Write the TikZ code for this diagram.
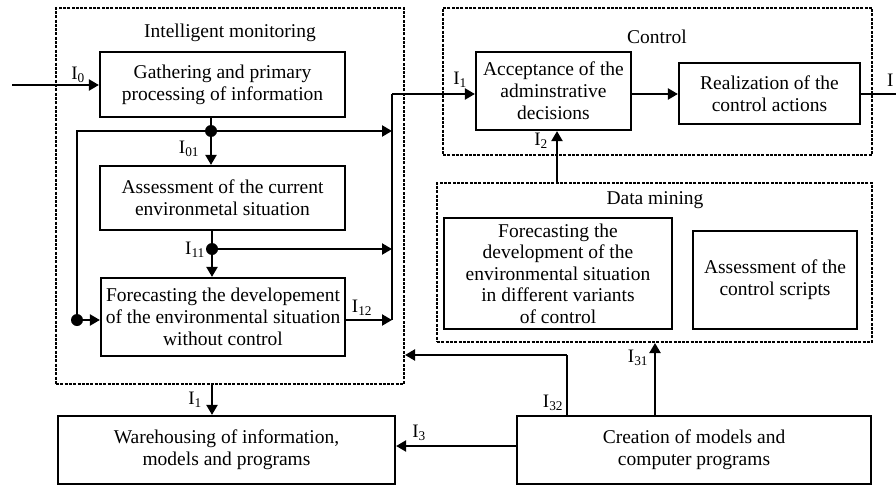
\documentclass[tikz,border=0pt]{standalone}
\usepackage{fontspec}
\setmainfont{Liberation Serif}
\usetikzlibrary{arrows.meta,calc}
\begin{document}
\begin{tikzpicture}[x=1pt,y=-1pt,
  box/.style={draw,line width=2.2pt,align=center,inner sep=0pt,font=\fontsize{19.5}{22}\selectfont},
  grp/.style={draw,line width=2pt,dash pattern=on 3pt off 1.3pt,inner sep=0pt},
  title/.style={font=\fontsize{19.5}{22}\selectfont,inner sep=0pt},
  lbl/.style={font=\fontsize{19}{20}\selectfont,inner sep=0pt},
  conn/.style={line width=2.2pt},
  arr/.style={conn,-{Triangle[length=10pt,width=11pt]}},
  dot/.style={circle,fill,inner sep=0pt,minimum size=12pt}]
\useasboundingbox (0,0) rectangle (896,487);
% groups
\node[grp,minimum width=348pt,minimum height=376pt] (mon) at (230,196) {};
\node[grp,minimum width=429pt,minimum height=147pt] (ctrl) at (657.5,81.5) {};
\node[grp,minimum width=435pt,minimum height=159pt] (dm) at (654.5,262.5) {};
\node[title] (tmon) at (230,33) {Intelligent monitoring};
\node[title] (tctrl) at (657,37) {Control};
\node[title] (tdm) at (655,200) {Data mining};
% boxes
\node[box,minimum width=245pt,minimum height=65pt] (gather) at (222.5,84.5) {Gathering and primary\\processing of information};
\node[box,minimum width=245pt,minimum height=64pt] (assess) at (222.5,198) {Assessment of the current\\environmetal situation};
\node[box,minimum width=244pt,minimum height=78pt] (fore) at (223,317) {Forecasting the developement\\of the environmental situation\\without control};
\node[box,minimum width=337pt,minimum height=68pt] (ware) at (226.5,450) {Warehousing of information,\\models and programs};
\node[box,minimum width=354pt,minimum height=68pt] (create) at (694,450) {Creation of models and\\computer programs};
\node[box,minimum width=155pt,minimum height=78pt] (accept) at (553.5,91) {Acceptance of the\\adminstrative\\decisions};
\node[box,minimum width=181pt,minimum height=61pt] (realize) at (769.5,93.5) {Realization of the\\control actions};
\node[box,minimum width=228pt,minimum height=111pt,font=\fontsize{19.5}{21.5}\selectfont] (dmfore) at (558,273.5) {Forecasting the\\development of the\\environmental situation\\in different variants\\of control};
\node[box,minimum width=164pt,minimum height=98pt] (dmass) at (775,280) {Assessment of the\\control scripts};
% coordinates
\coordinate (in0) at (12,85);
\coordinate (d1) at (211,131);
\coordinate (d2) at (212,249);
\coordinate (d3) at (77,320);
\coordinate (bt) at (392,94);
\coordinate (bb) at (392,320);
\coordinate (out) at (896,94);
\coordinate (i3) at (517,446);
\coordinate (i32) at (567,355);
\coordinate (i31) at (655,380);
\coordinate (i2) at (557,160);
% connectors
\draw[arr] (in0) -- (in0 -| gather.west);
\draw[conn] (gather.south -| d1) -- (d1);
\draw[arr] (d1) -- (assess.north -| d1);
\draw[arr] (d1) -- (d1 -| bt);
\draw[conn] (d1) -- (d1 -| d3) -- (d3);
\draw[arr] (d3) -- (d3 -| fore.west);
\draw[conn] (assess.south -| d2) -- (d2);
\draw[arr] (d2) -- (fore.north -| d2);
\draw[arr] (d2) -- (d2 -| bt);
\draw[arr] (fore.east |- bb) -- (bb);
\draw[conn] (bb) -- (bt);
\draw[arr] (bt) -- (bt -| accept.west);
\draw[arr] (accept.east |- bt) -- (realize.west |- bt);
\draw[conn] (realize.east |- out) -- (out);
\draw[arr] (mon.south -| d2) -- (ware.north -| d2);
\draw[arr] (i3) -- (i3 -| ware.east);
\draw[conn] (create.north -| i32) -- (i32);
\draw[arr] (i32) -- (i32 -| mon.east);
\draw[arr] (create.north -| i31) -- (dm.south -| i31);
\draw[arr] (dm.north -| i2) -- (accept.south -| i2);
\node[dot] (dot1) at (d1) {};
\node[dot] (dot2) at (d2) {};
\node[dot] (dot3) at (d3) {};
% labels
\node[lbl] (lI0) at (78,75) {I\textsubscript{0}};
\node[lbl] (lI01) at (189,149) {I\textsubscript{01}};
\node[lbl] (lI11) at (195,250) {I\textsubscript{11}};
\node[lbl] (lI12) at (362,308) {I\textsubscript{12}};
\node[lbl] (lI1b) at (195,400) {I\textsubscript{1}};
\node[lbl] (lI3) at (419,433) {I\textsubscript{3}};
\node[lbl] (lI32) at (553,403) {I\textsubscript{32}};
\node[lbl] (lI31) at (638,358) {I\textsubscript{31}};
\node[lbl] (lI2) at (541,141) {I\textsubscript{2}};
\node[lbl] (lI1a) at (460,80) {I\textsubscript{1}};
\node[lbl,anchor=west] (lIout) at (887,80) {I};
\end{tikzpicture}
\end{document}
